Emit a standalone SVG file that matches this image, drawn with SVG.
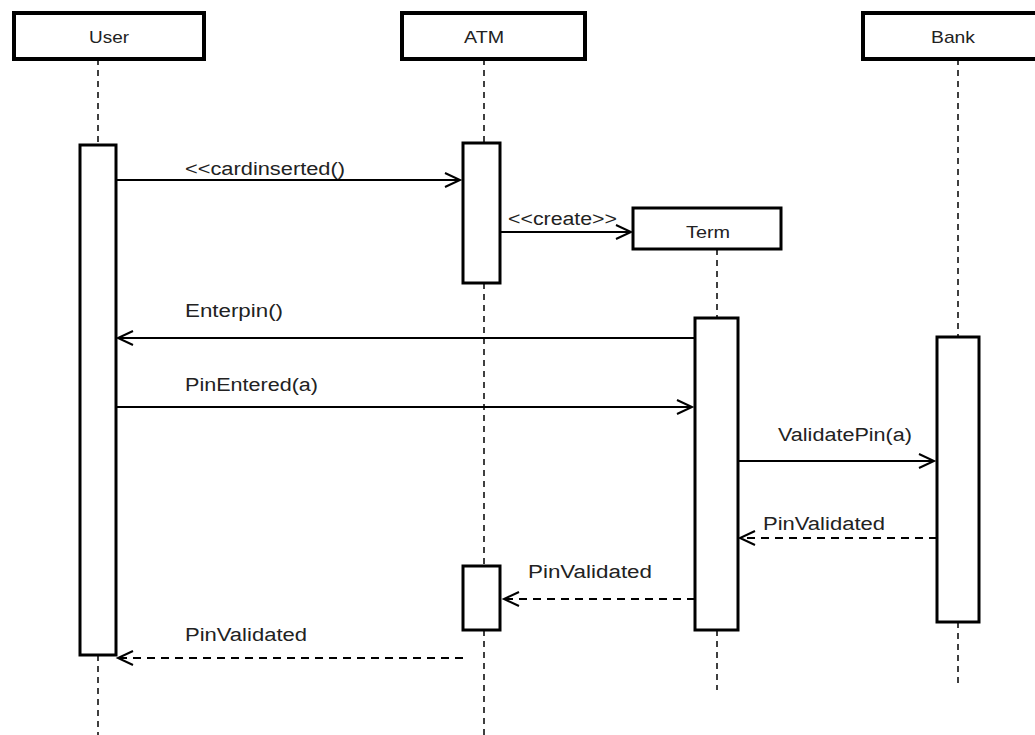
<svg xmlns="http://www.w3.org/2000/svg" width="1035" height="735" viewBox="0 0 1035 735">
<style>
.head{fill:#fff;stroke:#000;stroke-width:4}
.act{fill:#fff;stroke:#000;stroke-width:3}
.life{stroke:#000;stroke-width:1.5;stroke-dasharray:6,5;fill:none}
.msg{stroke:#000;stroke-width:2;fill:none}
.ret{stroke:#000;stroke-width:2;fill:none;stroke-dasharray:8,6}
text{font-family:"Liberation Sans",Arial,sans-serif;fill:#222}
.lbl{font-size:18px}
.hd{font-size:17px;text-anchor:middle}
</style>
<defs>
<marker id="open" markerWidth="20" markerHeight="20" refX="16" refY="8" orient="auto" markerUnits="userSpaceOnUse">
<path d="M1,1 L16,8 L1,15" fill="none" stroke="#000" stroke-width="2"/>
</marker>
</defs>
<g id="lifelines">
<line class="life" x1="98" y1="59" x2="98" y2="145"/>
<line class="life" x1="98" y1="655" x2="98" y2="735"/>
<line class="life" x1="484" y1="59" x2="484" y2="143"/>
<line class="life" x1="484" y1="283" x2="484" y2="566"/>
<line class="life" x1="484" y1="630" x2="484" y2="735"/>
<line class="life" x1="717" y1="249" x2="717" y2="318"/>
<line class="life" x1="717" y1="630" x2="717" y2="690"/>
<line class="life" x1="958" y1="59" x2="958" y2="337"/>
<line class="life" x1="958" y1="622" x2="958" y2="683"/>
</g>
<g id="User">
<rect class="head" x="14" y="13" width="190" height="46"/>
<text class="hd" x="109" y="43" textLength="40" lengthAdjust="spacingAndGlyphs">User</text>
<rect class="act" x="80" y="145" width="36" height="510"/>
</g>
<g id="ATM">
<rect class="head" x="402" y="13" width="183" height="46"/>
<text class="hd" x="484" y="43" textLength="40" lengthAdjust="spacingAndGlyphs">ATM</text>
<rect class="act" x="463" y="143" width="37" height="140"/>
<rect class="act" x="463" y="566" width="37" height="64"/>
</g>
<g id="Bank">
<rect class="head" x="863" y="13" width="180" height="46"/>
<text class="hd" x="953" y="43" textLength="44" lengthAdjust="spacingAndGlyphs">Bank</text>
<rect class="act" x="937" y="337" width="42" height="285"/>
</g>
<g id="Term">
<rect class="act" x="633" y="208" width="148" height="41"/>
<text class="hd" x="708" y="238" textLength="44" lengthAdjust="spacingAndGlyphs">Term</text>
<rect class="act" x="695" y="318" width="43" height="312"/>
</g>
<g id="connectors">
<line class="msg" x1="116" y1="180" x2="460" y2="180" marker-end="url(#open)"/>
<line class="msg" x1="500" y1="232" x2="631" y2="232" marker-end="url(#open)"/>
<line class="msg" x1="695" y1="338" x2="118" y2="338" marker-end="url(#open)"/>
<line class="msg" x1="116" y1="407" x2="692" y2="407" marker-end="url(#open)"/>
<line class="msg" x1="738" y1="461" x2="934" y2="461" marker-end="url(#open)"/>
<line class="ret" x1="937" y1="538" x2="740" y2="538" marker-end="url(#open)"/>
<line class="ret" x1="695" y1="599" x2="504" y2="599" marker-end="url(#open)"/>
<line class="ret" x1="463" y1="658" x2="118" y2="658" marker-end="url(#open)"/>
</g>
<g id="labels">
<text class="lbl" x="185" y="175" textLength="160" lengthAdjust="spacingAndGlyphs">&lt;&lt;cardinserted()</text>
<text class="lbl" x="508" y="225" textLength="109" lengthAdjust="spacingAndGlyphs">&lt;&lt;create&gt;&gt;</text>
<text class="lbl" x="185" y="317" textLength="98" lengthAdjust="spacingAndGlyphs">Enterpin()</text>
<text class="lbl" x="185" y="391" textLength="133" lengthAdjust="spacingAndGlyphs">PinEntered(a)</text>
<text class="lbl" x="778" y="441" textLength="134" lengthAdjust="spacingAndGlyphs">ValidatePin(a)</text>
<text class="lbl" x="763" y="530" textLength="122" lengthAdjust="spacingAndGlyphs">PinValidated</text>
<text class="lbl" x="528" y="578" textLength="124" lengthAdjust="spacingAndGlyphs">PinValidated</text>
<text class="lbl" x="185" y="641" textLength="122" lengthAdjust="spacingAndGlyphs">PinValidated</text>
</g>
</svg>
